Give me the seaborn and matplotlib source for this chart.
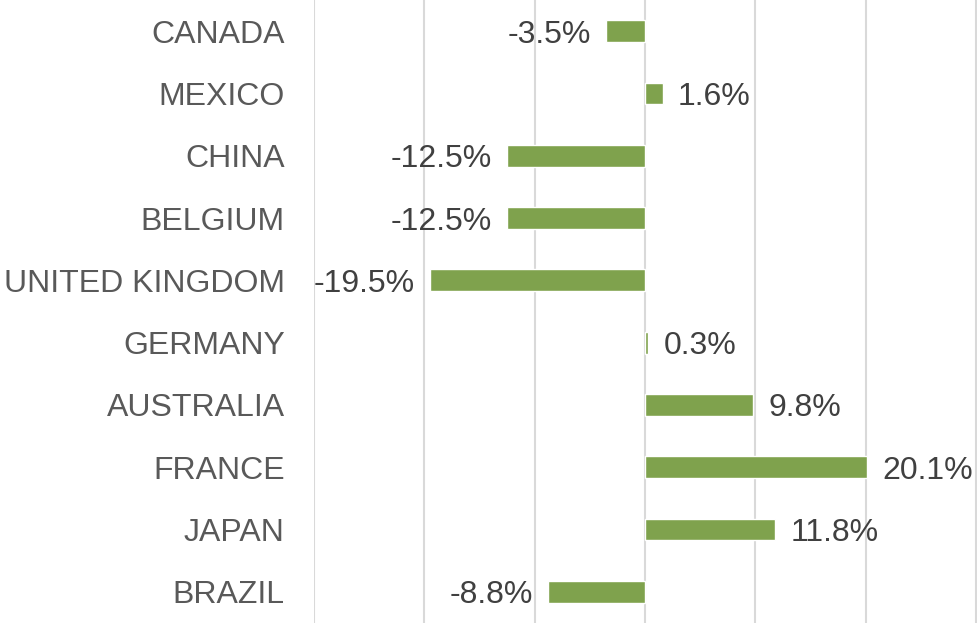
import seaborn as sns
import matplotlib.pyplot as plt
import pandas as pd

countries = ['CANADA', 'MEXICO', 'CHINA', 'BELGIUM', 'UNITED KINGDOM',
             'GERMANY', 'AUSTRALIA', 'FRANCE', 'JAPAN', 'BRAZIL']
change = [-3.5, 1.6, -12.5, -12.5, -19.5, 0.3, 9.8, 20.1, 11.8, -8.8]
grid_ticks = [-30, -20, -10, 0, 10, 20, 30]

sns.set_style('white')
plt.rcParams['font.family'] = ['Liberation Sans', 'DejaVu Sans']

df = pd.DataFrame({'country': countries, 'change': change})

fig = plt.figure(figsize=(9.77, 6.23), dpi=100)
ax = fig.add_axes([314 / 977, 0, 1 - 314 / 977, 1])

sns.barplot(data=df, y='country', x='change', orient='h', color='#7FA24D',
            width=0.35, saturation=1, ax=ax, zorder=3)

ax.set_xlim(-30, 30.1)
ax.set_xticks(grid_ticks)
ax.xaxis.grid(True, color='#d9d9d9', lw=1.5, zorder=0)
ax.set_axisbelow(True)
ax.set_xticklabels([])
ax.tick_params(axis='x', length=0)
ax.tick_params(axis='y', length=0, pad=21, labelsize=23, labelcolor='#595959')
ax.set_xlabel('')
ax.set_ylabel('')
for s in ax.spines.values():
    s.set_visible(False)

anns = ax.bar_label(ax.containers[0], labels=[f'{v:.1f}%' for v in change],
                    padding=11, fontsize=23, color='#404040')
# nudge the value labels a little lower, like the original
for a in anns:
    a.xyann = (a.xyann[0], -2.5)

fig.savefig('out.png', dpi=100)
